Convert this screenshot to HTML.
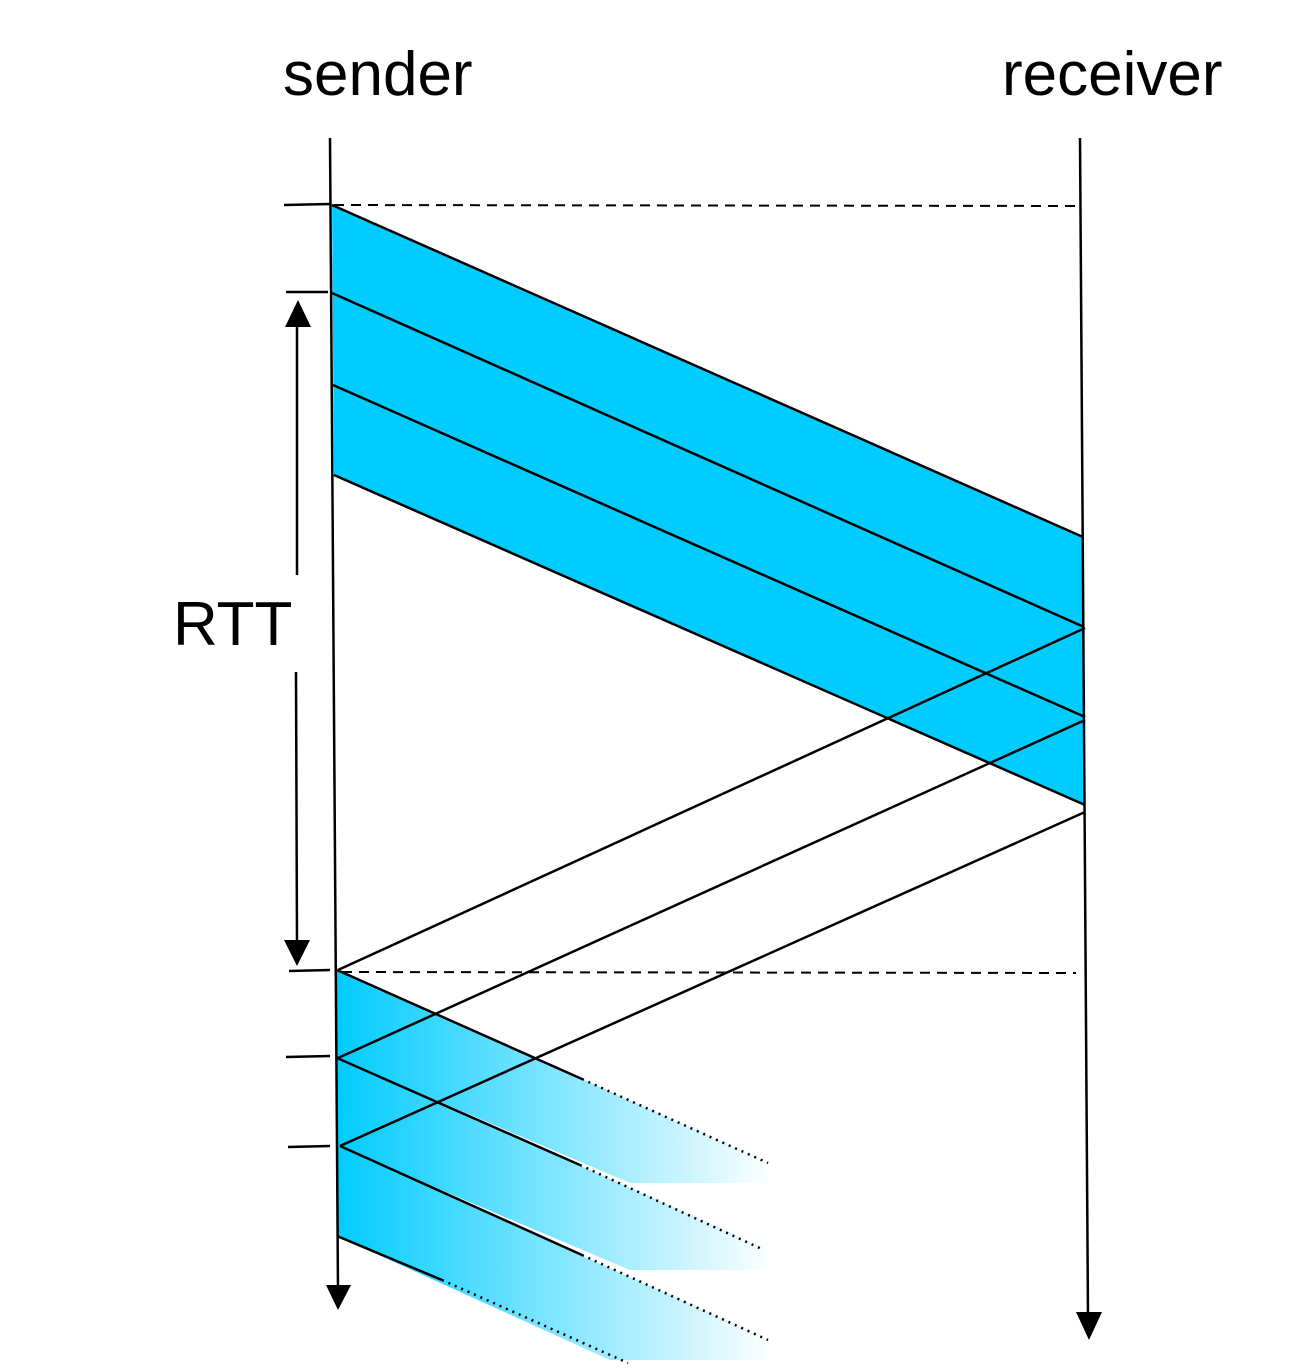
<!DOCTYPE html>
<html><head><style>html,body{margin:0;padding:0;background:#fff}svg{display:block}</style></head>
<body>
<svg width="1310" height="1370" viewBox="0 0 1310 1370" xmlns="http://www.w3.org/2000/svg">
<defs>
<linearGradient id="g" x1="337" y1="0" x2="775" y2="0" gradientUnits="userSpaceOnUse">
<stop offset="0" stop-color="#00ccff"/>
<stop offset="0.55" stop-color="#8ee8ff"/>
<stop offset="1" stop-color="#ffffff"/>
</linearGradient>
</defs>
<g font-family="Liberation Sans, sans-serif" font-size="62" fill="#000">
<text x="283" y="95">sender</text>
<text x="1002" y="95">receiver</text>
<text x="173" y="645">RTT</text>
</g>
<!-- main bands -->
<polygon points="332,205 1083,537 1085,805 334,475" fill="#00ccff"/>
<g stroke="#000" stroke-width="2.5" fill="none">
<line x1="332" y1="205" x2="1083" y2="537"/>
<line x1="332" y1="293" x2="1084" y2="627"/>
<line x1="333" y1="385" x2="1085" y2="717"/>
<line x1="334" y1="475" x2="1085" y2="805"/>
</g>
<!-- gradient bands -->
<polygon points="337,970 770,1163 770,1183 630,1183 337,1058" fill="url(#g)"/>
<polygon points="337,1058 770,1250 770,1270 630,1270 337,1146" fill="url(#g)"/>
<polygon points="337,1146 770,1340 770,1360 610,1360 337,1236" fill="url(#g)"/>
<g stroke="#000" stroke-width="2.5" fill="none">
<line x1="337" y1="970" x2="582" y2="1079"/>
<line x1="337" y1="1058" x2="580" y2="1165"/>
<line x1="340" y1="1146" x2="582" y2="1255"/>
<line x1="337" y1="1236" x2="442" y2="1280"/>
</g>
<g stroke="#000" stroke-width="2.5" stroke-dasharray="2,5" fill="none">
<line x1="582" y1="1079" x2="768" y2="1163"/>
<line x1="580" y1="1165" x2="764" y2="1250"/>
<line x1="582" y1="1255" x2="768" y2="1340"/>
<line x1="442" y1="1280" x2="628" y2="1363"/>
</g>
<!-- ack lines -->
<g stroke="#000" stroke-width="2.5" fill="none">
<line x1="1085" y1="628" x2="338" y2="970"/>
<line x1="1085" y1="720" x2="338" y2="1058"/>
<line x1="1085" y1="812" x2="340" y2="1146"/>
</g>
<!-- dashed -->
<g stroke="#000" stroke-width="2" stroke-dasharray="10,7" fill="none">
<line x1="334" y1="205" x2="1076" y2="206"/>
<line x1="342" y1="972" x2="1076" y2="973"/>
</g>
<!-- timelines -->
<g stroke="#000" stroke-width="2.5" fill="none">
<line x1="330" y1="138" x2="338" y2="1290"/>
<line x1="1080" y1="138" x2="1088" y2="1318"/>
<line x1="284" y1="205" x2="330" y2="204"/>
<line x1="286" y1="292" x2="328" y2="292"/>
<line x1="289" y1="971" x2="330" y2="970"/>
<line x1="286" y1="1057" x2="330" y2="1056"/>
<line x1="288" y1="1147" x2="330" y2="1146"/>
<line x1="297" y1="325" x2="297" y2="575"/>
<line x1="296" y1="672" x2="297" y2="945"/>
</g>
<g fill="#000">
<polygon points="338,1310 326,1285 351,1285"/>
<polygon points="1089,1340 1076,1312 1102,1312"/>
<polygon points="298,300 285,327 311,327"/>
<polygon points="297,966 284,940 310,940"/>
</g>
</svg>
</body></html>
